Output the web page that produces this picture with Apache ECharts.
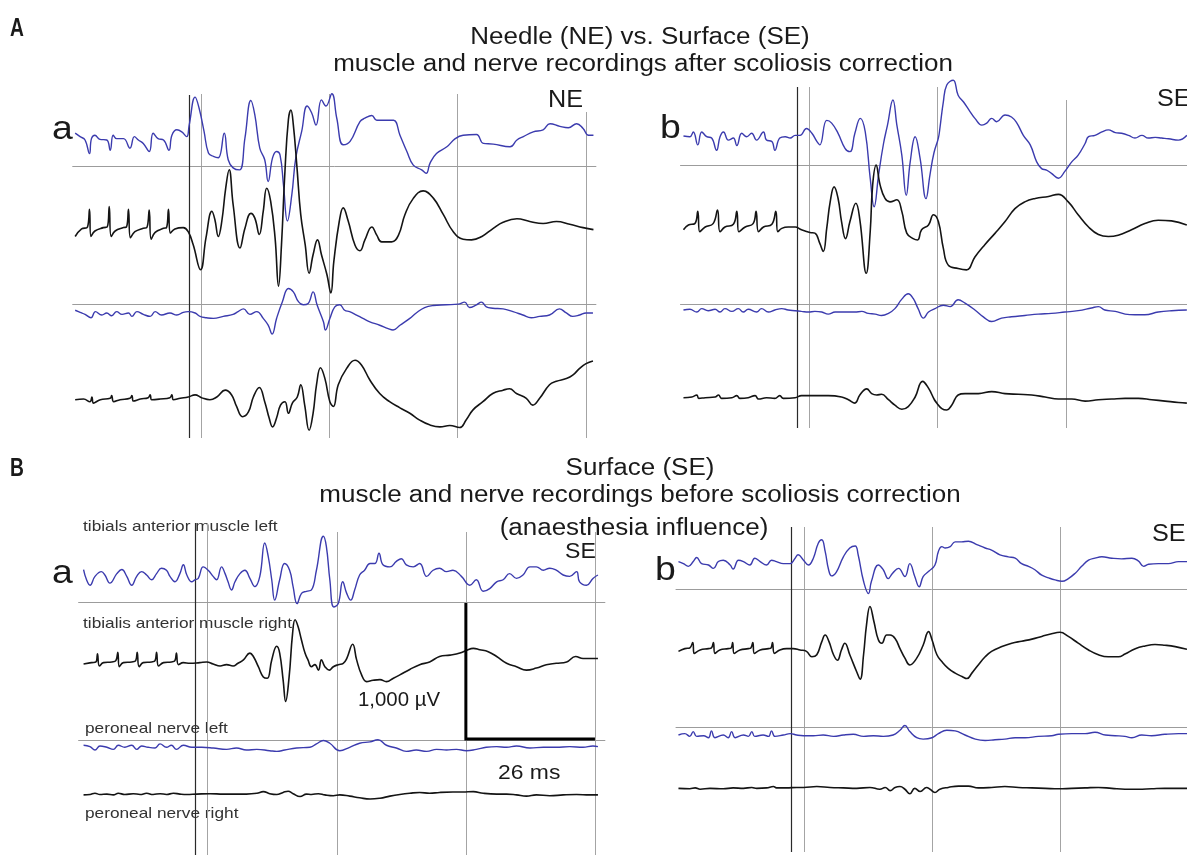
<!DOCTYPE html>
<html><head><meta charset="utf-8">
<script src="https://cdn.jsdelivr.net/npm/echarts@6.0.0/dist/echarts.min.js"></script>
<style>html,body{margin:0;padding:0;background:#fff}#c{width:1187px;height:855px}</style>
</head><body><div id="c"></div>
<script>
// ---------- values: [time ms, amplitude µV] ----------
const aa_TA_left = [[0.5,50],[1.5,25],[2.5,0],[3.4,-100],[3.8,10],[4.5,35],[5.5,5],[6.9,0],[7.6,-75],[8.2,35],[8.9,10],[10.3,10],[11.6,-60],[12.5,25],[13.3,0],[14.3,-25],[15.5,-85],[16.3,50],[17.3,10],[18.4,0],[19.5,-75],[20.1,35],[21.1,75],[22.1,60],[23.1,25],[23.6,110],[24.8,315],[25.6,235],[26.6,65],[27.5,-95],[28.5,-120],[29.5,-130],[30.7,50],[31.5,-145],[32.5,-205],[33.8,-220],[34.9,15],[36.1,290],[36.9,185],[37.9,-60],[38.9,-145],[39.6,-305],[40.5,-130],[41.3,-85],[42.0,-110],[42.7,-330],[43.5,-595],[44.4,-400],[45.2,-130],[46.4,65],[47.5,250],[48.4,200],[49.3,110],[50.4,295],[51.3,250],[52.5,340],[53.5,160],[54.8,-35],[56.2,-10],[58.2,135],[59.2,160],[60.6,180],[61.6,145],[63.3,145],[65.0,145],[66.3,35],[67.7,-85],[69.0,-185],[70.7,-220],[71.6,-245],[72.4,-170],[73.7,-100],[75.8,-50],[77.5,10],[79.1,35],[81.8,40],[83.2,-25],[85.2,-30],[88.6,-50],[90.0,0],[91.3,25],[93.3,60],[95.3,75],[96.7,120],[98.7,100],[100.4,90],[102.1,120],[103.4,85],[104.5,35],[105.5,35]];
const aa_TA_right = [[0.5,-60],[1.8,-5],[3.0,10],[3.4,140],[3.7,-60],[4.5,-20],[6.2,5],[7.0,10],[7.4,160],[7.8,-60],[8.6,-20],[10.3,5],[10.9,10],[11.3,140],[11.7,-70],[12.6,-25],[14.3,0],[15.0,5],[15.5,135],[15.9,-80],[16.7,-30],[18.4,0],[19.0,5],[19.4,140],[19.8,-35],[20.7,-5],[22.4,5],[23.4,-25],[24.4,-120],[25.9,-305],[27.0,-70],[28.2,125],[28.8,65],[29.5,-60],[30.2,50],[31.0,295],[31.7,430],[32.5,175],[33.9,-145],[34.9,0],[36.1,110],[36.9,75],[37.8,-45],[38.6,125],[39.3,295],[40.1,200],[41.0,-70],[41.7,-425],[42.3,-120],[43.0,420],[43.7,800],[44.2,870],[44.7,760],[45.4,465],[46.2,100],[47.1,-120],[47.9,-330],[48.7,-195],[49.6,-85],[50.4,-195],[51.5,-340],[52.3,-475],[52.9,-245],[54.0,50],[54.8,150],[55.8,55],[57.2,-125],[58.2,-165],[59.2,-85],[60.6,10],[61.6,-50],[62.6,-100],[64.6,-100],[66.0,-50],[67.3,100],[69.0,220],[71.0,275],[73.1,220],[75.1,100],[77.1,-25],[79.1,-80],[80.8,-85],[82.9,-60],[85.2,0],[87.2,45],[90.0,70],[92.6,50],[95.3,35],[98.0,50],[100.7,30],[103.4,5],[105.5,-10]];
const aa_PN_left = [[0.5,15],[1.5,0],[2.5,-15],[3.7,-40],[4.6,5],[5.9,-20],[6.9,-5],[7.9,-25],[8.9,5],[10.0,-15],[11.3,-5],[12.0,-30],[13.0,5],[14.3,-15],[15.7,-30],[16.7,5],[18.0,-20],[19.7,-5],[21.1,-20],[22.4,0],[23.4,5],[24.8,-5],[25.8,-30],[27.1,-40],[28.5,-45],[30.5,-30],[32.5,-15],[33.5,5],[34.6,25],[35.9,-15],[37.3,5],[38.6,-45],[39.6,-95],[40.4,-160],[41.3,-45],[42.5,80],[43.7,175],[44.7,150],[45.7,80],[46.7,55],[47.7,65],[48.7,150],[49.5,55],[50.8,-70],[51.2,-130],[52.1,-45],[53.1,40],[54.1,55],[55.1,15],[56.1,5],[57.5,-20],[58.8,-45],[60.2,-70],[62.2,-95],[63.9,-120],[64.9,-130],[66.3,-95],[68.3,-45],[69.6,-5],[71.3,35],[73.0,50],[75.7,55],[78.1,60],[79.4,75],[80.4,35],[81.8,55],[82.8,75],[83.8,40],[85.1,30],[87.2,25],[89.2,5],[91.2,-20],[92.9,-40],[94.6,-30],[96.6,-20],[98.6,25],[100.0,-5],[101.3,-30],[102.7,-20],[104.0,-5],[105.4,-5]];
const aa_PN_right = [[0.5,-5],[2.2,0],[3.5,-20],[3.9,15],[4.2,-30],[5.6,-5],[7.6,5],[7.9,25],[8.3,-20],[9.6,-5],[11.6,5],[12.0,25],[12.3,-15],[13.7,0],[15.3,10],[15.7,30],[16.0,-5],[17.7,0],[19.7,10],[20.1,30],[20.4,-5],[21.8,5],[23.4,15],[24.8,30],[26.1,10],[27.8,-5],[29.2,15],[30.9,65],[32.2,30],[33.2,-55],[34.4,-130],[35.6,-95],[36.6,15],[37.8,85],[38.9,-20],[39.8,-140],[40.5,-205],[41.3,-140],[42.1,-45],[43.0,-20],[43.7,-105],[44.5,-30],[45.5,15],[46.2,105],[47.0,-45],[47.9,-230],[48.7,-105],[49.4,105],[50.2,230],[51.1,150],[52.1,-20],[52.8,-55],[53.8,105],[55.5,225],[57.2,285],[58.5,250],[60.2,140],[62.2,40],[64.2,-20],[66.3,-65],[68.3,-105],[70.3,-155],[72.3,-190],[74.4,-205],[76.4,-195],[78.4,-210],[79.7,-155],[81.1,-80],[83.1,-20],[85.1,40],[87.2,65],[88.5,75],[89.9,40],[91.9,5],[93.2,-45],[94.6,5],[96.6,105],[98.0,130],[100.0,150],[101.3,175],[102.7,225],[104.0,260],[105.4,280]];

const ab_TA_left = [[0.6,5],[1.9,0],[2.6,35],[3.5,-60],[4.3,35],[5.3,0],[6.3,-10],[7.3,-100],[8.0,0],[8.7,35],[9.7,-25],[10.7,-10],[11.4,-65],[12.4,25],[13.4,0],[14.4,25],[15.4,-25],[16.8,35],[17.4,-25],[18.5,-35],[19.1,-100],[20.1,-10],[21.2,0],[22.2,-10],[23.2,10],[24.2,10],[25.5,60],[26.6,25],[27.6,-35],[28.2,-60],[29.6,120],[30.6,100],[31.9,25],[33.3,-85],[34.3,-110],[35.3,25],[36.4,135],[37.4,35],[38.4,-305],[39.2,-515],[40.1,-280],[41.1,-50],[41.9,85],[43.0,270],[43.8,85],[44.8,-135],[45.7,-430],[46.5,-185],[47.5,0],[48.5,-160],[49.7,-455],[50.5,-280],[51.3,-120],[52.2,-10],[52.5,60],[53.2,255],[53.9,380],[55.2,415],[56.2,305],[57.3,255],[58.6,185],[59.6,135],[61.0,85],[62.0,100],[63.0,135],[64.0,110],[65.7,160],[67.0,145],[68.1,100],[69.4,10],[70.8,-60],[72.1,-185],[73.1,-235],[74.1,-245],[75.1,-270],[76.5,-305],[77.8,-255],[79.2,-185],[80.5,-135],[81.9,-50],[82.6,0],[83.9,10],[85.3,35],[86.6,50],[88.0,30],[89.3,25],[90.7,10],[92.0,-10],[93.4,10],[94.7,-10],[96.1,-5],[97.4,-10],[98.8,-15],[100.8,-25],[102.5,10]];
const ab_TA_right = [[0.6,-15],[1.6,20],[2.9,30],[3.5,120],[3.9,-30],[5.0,5],[6.6,30],[7.5,130],[8.0,-30],[9.0,5],[10.7,25],[11.4,120],[11.8,-30],[13.1,5],[14.7,30],[15.3,120],[15.8,-30],[16.8,5],[18.5,25],[19.3,120],[19.7,-30],[20.5,-5],[21.8,5],[23.2,5],[24.5,-15],[26.2,-35],[27.2,-40],[28.2,-115],[28.9,-175],[29.6,-5],[30.3,190],[31.1,300],[31.9,215],[32.6,45],[33.4,-80],[34.3,45],[35.5,180],[36.3,60],[37.6,-335],[38.4,-30],[38.9,315],[39.6,460],[40.4,315],[41.4,215],[42.4,190],[43.8,205],[44.8,120],[45.8,-40],[47.1,-80],[48.0,-90],[48.8,-15],[50.2,20],[51.2,95],[52.2,45],[53.2,-150],[54.2,-275],[56.2,-300],[57.9,-310],[59.6,-215],[61.6,-125],[63.7,-40],[65.7,45],[67.7,140],[69.7,190],[71.8,215],[74.5,230],[76.5,245],[78.5,190],[80.5,95],[82.6,5],[84.6,-50],[86.6,-65],[88.6,-55],[91.3,-15],[94.0,30],[96.7,55],[99.4,50],[102.5,20]];
const ab_PN_left = [[0.6,0],[1.9,5],[3.3,-15],[4.3,10],[5.6,-5],[7.0,5],[8.0,-15],[9.0,10],[10.4,-10],[11.7,10],[12.7,-15],[13.7,5],[15.4,-15],[16.4,10],[17.8,-15],[19.1,0],[20.5,10],[21.8,0],[23.2,-5],[24.5,-10],[25.9,-15],[27.2,-10],[28.6,-15],[29.9,-30],[31.3,-15],[32.6,-15],[34.0,-15],[35.3,-15],[36.7,-10],[38.0,-25],[39.4,-30],[40.7,-40],[42.1,-25],[43.4,10],[44.8,80],[46.1,120],[47.1,85],[48.1,10],[49.2,-60],[50.2,-15],[51.5,10],[53.2,35],[54.6,25],[56.2,75],[57.6,50],[59.6,0],[61.3,-50],[63.0,-85],[65.0,-60],[67.0,-50],[69.7,-40],[72.4,-30],[75.1,-25],[77.8,-15],[80.5,-5],[83.2,15],[84.6,25],[85.9,0],[88.0,-10],[90.0,-30],[92.0,-35],[94.0,-35],[96.7,-15],[99.4,-5],[102.5,0]];
const ab_PN_right = [[0.6,0],[2.3,5],[3.3,20],[3.7,-5],[5.0,0],[7.0,5],[7.7,20],[8.3,-5],[10.4,0],[11.4,15],[12.0,-5],[13.7,0],[15.1,15],[15.8,-10],[17.4,0],[19.1,-5],[20.1,15],[20.8,-5],[23.2,0],[24.5,15],[27.2,15],[29.9,15],[32.6,5],[34.0,-15],[35.3,-40],[36.3,20],[37.7,65],[38.7,30],[39.7,20],[40.7,25],[42.1,-15],[43.4,-55],[44.8,-85],[46.1,-65],[47.5,5],[49.0,120],[50.2,70],[51.4,-15],[51.9,-40],[52.9,-80],[53.9,-90],[54.9,-55],[56.2,20],[57.6,30],[60.3,30],[63.0,45],[65.7,30],[68.4,25],[71.1,20],[73.8,5],[76.5,-10],[79.2,-10],[81.9,-25],[84.6,-15],[87.3,-10],[90.0,-5],[92.7,-5],[95.4,-15],[98.1,-25],[100.8,-35],[102.5,-40]];

const ba_TA_left = [[1.0,40],[1.6,-35],[2.3,-75],[3.3,-10],[4.6,25],[5.3,0],[6.3,-60],[7.7,10],[8.7,40],[9.7,-10],[10.7,-75],[11.7,-10],[12.7,25],[13.7,0],[14.7,-35],[15.7,10],[16.7,50],[17.7,35],[18.4,-10],[19.4,-50],[20.4,10],[21.1,75],[21.8,0],[22.8,-50],[23.4,-35],[24.1,-25],[25.1,60],[26.1,35],[27.1,-10],[27.8,-35],[28.8,60],[29.5,10],[30.1,-50],[30.8,-110],[31.5,-50],[32.5,10],[33.5,35],[34.5,-25],[35.5,-85],[36.5,-10],[37.5,235],[38.2,135],[38.9,-35],[39.5,-185],[40.5,-35],[41.5,85],[42.5,35],[43.2,-85],[44.0,-210],[44.9,-135],[45.9,-120],[46.9,-110],[47.9,35],[49.3,285],[49.9,210],[50.6,-35],[51.4,-235],[52.3,-210],[53.2,-50],[54.0,-135],[54.8,-185],[55.6,-110],[56.6,0],[57.6,35],[58.7,85],[59.7,85],[60.5,160],[61.3,75],[62.7,60],[64.0,100],[65.0,120],[66.0,75],[67.4,60],[68.7,85],[70.1,-10],[71.4,35],[72.7,50],[74.1,25],[75.4,35],[77.1,-10],[78.8,-75],[80.1,-35],[81.5,-120],[82.8,-100],[84.2,-50],[85.5,-35],[86.8,10],[88.2,-25],[89.5,0],[90.9,60],[92.2,60],[93.6,35],[94.9,50],[96.2,35],[97.6,0],[98.9,-10],[100.3,25],[100.9,-50],[102.3,-75],[103.6,-25],[104.6,0]];
const ba_TA_right = [[1.0,-5],[2.6,5],[3.5,10],[3.8,70],[4.2,-20],[5.0,5],[6.7,10],[7.5,20],[7.9,80],[8.2,-25],[9.0,5],[10.7,10],[11.5,20],[11.8,80],[12.2,-25],[13.0,5],[14.7,10],[15.4,20],[15.7,80],[16.1,-20],[17.1,5],[18.7,10],[19.4,20],[19.7,75],[20.1,-10],[21.1,5],[22.4,0],[24.4,5],[25.8,10],[27.1,-5],[28.5,-20],[29.8,-10],[31.1,-20],[32.1,0],[33.2,25],[34.5,75],[35.2,50],[36.2,-25],[37.2,-100],[38.0,-110],[38.9,25],[39.9,125],[40.5,75],[41.2,-125],[41.7,-280],[42.4,-100],[43.1,220],[43.6,320],[44.2,270],[44.9,170],[45.6,75],[46.2,25],[46.9,-25],[47.6,-10],[48.3,-50],[48.9,25],[49.6,-25],[50.5,-50],[51.3,-25],[52.3,-10],[53.3,0],[54.0,35],[55.2,140],[56.0,25],[57.0,-85],[58.0,-135],[59.3,-125],[60.7,-120],[62.0,-135],[63.4,-110],[64.7,-85],[66.7,-45],[68.7,-10],[70.7,10],[72.7,50],[74.8,60],[76.8,75],[78.1,95],[79.5,110],[80.8,100],[82.5,85],[84.2,50],[86.2,0],[88.2,-25],[90.2,-50],[92.2,-35],[94.2,-10],[96.2,0],[98.3,10],[100.1,50],[101.6,35],[103.6,35],[104.6,35]];
const ba_PN_left = [[1.0,15],[2.3,5],[3.3,-20],[4.3,10],[5.7,0],[7.0,-15],[8.0,15],[9.3,0],[10.7,15],[11.7,-15],[12.7,10],[14.0,0],[15.4,-5],[16.4,25],[17.7,0],[18.7,15],[19.7,-15],[21.1,15],[22.8,0],[24.8,0],[27.1,-5],[29.8,-15],[31.8,-5],[33.8,-20],[35.9,-15],[38.5,-25],[39.9,-30],[41.5,-20],[43.9,-5],[46.6,0],[47.9,25],[49.3,50],[50.6,30],[52.6,-25],[54.6,0],[56.6,30],[58.7,40],[60.3,55],[62.0,15],[64.0,-5],[66.0,-30],[68.0,-20],[70.1,-30],[72.1,-15],[74.1,-20],[76.1,-15],[78.1,-25],[80.1,-15],[82.1,0],[84.2,5],[86.2,0],[88.2,10],[90.9,-5],[93.6,0],[96.2,0],[98.9,5],[101.6,0],[103.6,10],[104.6,5]];
const ba_PN_right = [[1.0,-5],[2.3,0],[3.3,15],[4.3,0],[5.7,5],[7.0,-5],[8.0,15],[9.3,0],[11.0,10],[12.4,0],[13.7,15],[15.0,0],[16.4,10],[17.7,0],[19.1,15],[20.4,5],[21.8,0],[23.8,5],[26.5,10],[29.1,5],[31.8,5],[33.8,5],[35.9,15],[37.2,35],[38.5,10],[39.9,0],[41.2,25],[42.2,40],[43.2,10],[44.6,-25],[45.9,5],[46.9,0],[48.3,10],[49.6,-5],[51.3,-15],[52.6,-5],[54.6,-20],[56.6,-40],[58.7,-55],[60.7,-45],[62.7,-20],[64.7,0],[66.7,15],[68.7,25],[70.7,15],[72.7,25],[75.4,30],[77.4,30],[79.5,35],[81.5,15],[84.2,5],[86.2,5],[88.2,-5],[90.2,-20],[92.2,-5],[94.9,-15],[97.6,-5],[100.3,0],[102.9,-5],[104.6,-5]];

const bb_TA_left = [[0.5,20],[1.5,5],[2.5,-15],[3.5,20],[4.2,50],[5.2,5],[6.6,-5],[7.6,-30],[8.6,20],[9.6,30],[11.0,-5],[11.6,-35],[12.7,30],[13.7,20],[15.0,-5],[16.0,45],[17.1,20],[18.4,-5],[19.4,30],[20.4,20],[21.8,5],[23.2,5],[24.2,45],[24.8,70],[25.9,30],[26.9,-5],[27.9,45],[28.9,155],[29.6,180],[30.3,95],[31.0,-40],[31.6,-85],[32.6,-55],[34.0,55],[35.3,120],[36.4,135],[37.0,70],[38.1,-125],[39.1,-215],[39.7,-125],[41.1,-5],[42.1,-40],[43.1,-105],[44.0,-65],[45.2,-30],[46.5,-90],[47.5,5],[48.5,-90],[49.4,-165],[50.2,-90],[51.4,-50],[52.6,-5],[53.3,95],[54.0,130],[54.7,120],[55.7,130],[56.7,165],[58.0,165],[59.4,170],[61.1,145],[62.8,120],[64.1,105],[65.8,70],[67.5,55],[68.9,45],[70.2,5],[71.6,-15],[72.9,-40],[74.3,-80],[75.7,-100],[77.0,-115],[78.4,-125],[79.7,-105],[81.1,-65],[82.4,-15],[83.8,30],[85.1,45],[86.5,55],[88.5,45],[90.5,40],[92.6,45],[93.9,25],[95.0,-15],[96.0,0],[98.0,5],[100.0,5],[102.1,20],[103.8,20]];
const bb_TA_right = [[0.5,-10],[1.8,10],[2.8,15],[3.4,55],[3.7,-25],[4.9,0],[6.6,10],[7.2,15],[7.6,55],[7.9,-25],[8.9,0],[10.6,10],[11.2,15],[11.5,55],[11.8,-25],[13.0,0],[14.7,10],[15.2,15],[15.6,55],[15.9,-25],[17.1,0],[18.8,10],[19.3,15],[19.6,55],[20.0,-25],[21.1,0],[22.5,10],[23.8,10],[25.2,0],[26.5,-10],[27.6,-50],[28.6,-35],[29.6,60],[30.3,110],[31.1,60],[32.0,-35],[32.8,-75],[33.6,0],[34.3,50],[35.3,-35],[36.7,-160],[37.4,-215],[38.1,-35],[38.7,185],[39.4,320],[40.2,210],[41.1,75],[41.8,50],[42.8,110],[43.5,110],[44.5,85],[45.5,10],[46.5,-60],[47.5,-110],[48.9,-60],[50.2,35],[51.3,135],[52.0,75],[53.0,-35],[54.0,-85],[55.3,-135],[56.7,-170],[58.1,-195],[59.1,-210],[60.1,-170],[61.4,-110],[62.8,-50],[64.1,-10],[66.2,25],[68.2,50],[70.2,65],[72.3,80],[74.3,100],[76.3,120],[78.0,130],[79.7,100],[81.7,50],[83.8,0],[85.8,-35],[87.8,-50],[89.9,-50],[91.2,-30],[93.3,10],[95.3,30],[97.3,40],[99.3,35],[101.4,25],[103.8,5]];
const bb_PN_left = [[0.5,0],[1.8,10],[2.8,-10],[3.5,25],[4.2,-10],[5.6,-5],[6.6,-20],[7.2,30],[7.9,-20],[9.6,0],[10.6,-20],[11.3,25],[12.0,-20],[13.7,0],[14.7,-10],[15.4,25],[16.0,-10],[17.7,0],[18.8,-10],[19.4,30],[20.1,-10],[21.8,0],[23.2,10],[24.5,0],[25.9,-5],[27.9,-5],[29.9,0],[32.0,-10],[34.0,0],[36.0,5],[38.1,-10],[40.1,-5],[42.1,-10],[44.1,0],[45.5,35],[46.5,70],[47.5,25],[48.9,-20],[50.2,-30],[52.0,-20],[53.3,10],[55.0,35],[56.7,30],[58.7,0],[60.8,-30],[62.8,-40],[64.8,-35],[66.8,-30],[68.9,-20],[70.9,-20],[73.6,-10],[76.3,-5],[77.7,5],[80.4,10],[83.1,10],[85.1,20],[87.2,0],[89.2,-5],[91.2,-10],[92.6,-20],[94.6,0],[96.6,-5],[99.3,5],[102.1,10],[103.8,10]];
const bb_PN_right = [[0.5,0],[2.8,-5],[3.9,5],[4.9,-10],[6.9,0],[9.6,-5],[11.6,5],[13.7,0],[15.4,10],[16.4,0],[18.4,5],[19.8,20],[20.4,5],[22.5,5],[24.5,10],[25.9,10],[28.6,20],[31.3,10],[34.0,5],[36.7,0],[39.4,10],[41.4,-10],[42.5,10],[43.5,-25],[44.5,10],[45.5,20],[46.5,-10],[47.5,-60],[48.5,0],[49.6,-35],[50.9,10],[51.6,-10],[52.6,-45],[53.6,-10],[55.3,10],[57.4,25],[59.4,25],[61.4,5],[64.1,10],[66.8,20],[69.6,10],[72.3,5],[75.0,0],[77.7,-5],[80.4,0],[83.1,5],[85.8,10],[88.5,0],[91.2,-10],[93.9,-10],[96.6,-5],[99.3,0],[102.1,0],[103.8,0]];

const TRACE_NAMES = ['tibials anterior muscle left','tibialis anterior muscle right','peroneal nerve left','peroneal nerve right'];
const GRID_TIMES = [26, 52, 78, 104];   // vertical grid lines (ms)
const SCALE_MS = 26;                    // calibration bar
const SCALE_UV = 1000;
const STIM_MS = [23.6, 23.6, 23.5, 23.5];

// ---------- layout (pixels) ----------
const GAIN = 0.136; // px per µV
const PANELS = [
  {x0:72.7,  pxMs:4.936, tMax:106,    gTops:[94,94,94,112],    gBot:438, sTop:95,  sBot:438, base:[140,228.3,312.3,399],   seps:[166,304], traces:[aa_TA_left,aa_TA_right,aa_PN_left,aa_PN_right]},
  {x0:680.5, pxMs:4.94,  tMax:102.53, gTops:[87,87,100],       gBot:428, sTop:87,  sBot:428, base:[136.7,227.7,310,397.7], seps:[165,304], traces:[ab_TA_left,ab_TA_right,ab_PN_left,ab_PN_right]},
  {x0:78.6,  pxMs:4.965, tMax:106,    gTops:[523,532,532,532], gBot:855, sTop:523, sBot:855, base:[575,663.3,747.3,834],   seps:[602,740], traces:[ba_TA_left,ba_TA_right,ba_PN_left,ba_PN_right]},
  {x0:676,   pxMs:4.923, tMax:103.8,  gTops:[527,527,527],     gBot:852, sTop:527, sBot:852, base:[564.3,650,735,821.7],   seps:[589,727], traces:[bb_TA_left,bb_TA_right,bb_PN_left,bb_PN_right]}
];
const BLUE = '#3b3bae', BLACK = '#141414', GRAY = '#a4a4a4';

const grid = [], xAxis = [], yAxis = [], series = [];
function addGrid(g, xa, ya) {
  grid.push(g); const i = grid.length - 1;
  xa.gridIndex = i; ya.gridIndex = i; xAxis.push(xa); yAxis.push(ya); return i;
}
const hiddenX = (tMax) => ({type:'value', min:0, max:tMax, show:false});
const hiddenY = () => ({type:'value', min:0, max:1, show:false});
function vLine(p, width, top, bottom, t, color, w, z) {
  const gi = addGrid({left:p.x0, top, width, height:bottom - top}, hiddenX(p.tMax), hiddenY());
  series.push({type:'line', xAxisIndex:gi, yAxisIndex:gi, data:[], silent:true, z:z,
    markLine:{silent:true, symbol:'none', animation:false, label:{show:false}, z:z,
      lineStyle:{color, width:w, type:'solid'}, data:[{xAxis:t}]}});
}
let scaleGrid = -1;

PANELS.forEach((p, pi) => {
  const width = p.tMax * p.pxMs;
  GRID_TIMES.filter(t => t < p.tMax).forEach((t, k) => vLine(p, width, p.gTops[k], p.gBot, t, GRAY, 1, 1));
  vLine(p, width, p.sTop, p.sBot, STIM_MS[pi], '#2a2a2a', 1.2, 2);
  p.traces.forEach((tr, i) => {
    const b = p.base[i];
    const sep = (i % 2 === 0) ? p.seps[i / 2] : null;
    const top = b - 100, bottom = sep !== null ? sep : b + 100;
    const gi = addGrid({left:p.x0, top, width, height:bottom - top},
      {type:'value', min:0, max:p.tMax, show: sep !== null, z:1,
       axisLine:{show: sep !== null, onZero:false, lineStyle:{color:'#9c9c9c', width:1}},
       axisTick:{show:false}, axisLabel:{show:false}, splitLine:{show:false}},
      {type:'value', min:-(bottom - b) / GAIN, max:100 / GAIN, show:false});
    if (pi === 2 && i === 1) scaleGrid = gi;
    series.push({type:'line', name:TRACE_NAMES[i], xAxisIndex:gi, yAxisIndex:gi, data:tr,
      showSymbol:false, symbol:'none', clip:false, smooth:0.45, z:3,
      lineStyle:{color: i % 2 === 0 ? BLUE : BLACK, width: i % 2 === 0 ? 1.4 : 1.6}});
  });
});

// calibration bar (1000 µV / 26 ms) drawn in the Ba right-TA axes
const barT = 78, barTopUV = 443;
series.push({type:'line', xAxisIndex:scaleGrid, yAxisIndex:scaleGrid, clip:false, symbol:'none', silent:true, z:6,
  data:[[barT, barTopUV], [barT, barTopUV - SCALE_UV], [barT + SCALE_MS, barTopUV - SCALE_UV]],
  lineStyle:{color:'#000', width:3, join:'miter', cap:'butt'}});

// ---------- texts ----------
const F = 'Liberation Sans, Arial, sans-serif';
const TEXTS = [
  {t:'A', x:10, y:29, s:26, w:'bold', sx:0.74},
  {t:'Needle (NE) vs. Surface (SE)', x:640, y:38, s:23, a:'center', sx:1.13},
  {t:'muscle and nerve recordings after scoliosis correction', x:643, y:64.5, s:23, a:'center', sx:1.13},
  {t:'NE', x:548, y:100, s:24, sx:1.05},
  {t:'SE', x:1157, y:99, s:24, sx:1.05},
  {t:'a', x:52, y:130, s:34, sx:1.1},
  {t:'b', x:660, y:129, s:34, sx:1.1},
  {t:'B', x:10, y:468.5, s:26, w:'bold', sx:0.74},
  {t:'Surface (SE)', x:640, y:468.5, s:23, a:'center', sx:1.13},
  {t:'muscle and nerve recordings before scoliosis correction', x:640, y:495.5, s:23, a:'center', sx:1.13},
  {t:'(anaesthesia influence)', x:634, y:529, s:23, a:'center', sx:1.13},
  {t:'SE', x:565, y:552, s:22, sx:1.05},
  {t:'SE', x:1152, y:534, s:24, sx:1.05},
  {t:'a', x:52, y:574, s:34, sx:1.1},
  {t:'b', x:655, y:571, s:34, sx:1.1},
  {t:TRACE_NAMES[0], x:83, y:527, s:15, sx:1.15, c:'#333'},
  {t:TRACE_NAMES[1], x:83, y:623.5, s:15, sx:1.15, c:'#333'},
  {t:TRACE_NAMES[2], x:85, y:729, s:15, sx:1.15, c:'#333'},
  {t:TRACE_NAMES[3], x:85, y:813.5, s:15, sx:1.15, c:'#333'},
  {t:SCALE_UV.toLocaleString('en-US') + ' µV', x:358, y:700.5, s:20, sx:1.02},
  {t:SCALE_MS + ' ms', x:498, y:773, s:21, sx:1.09}
];
const graphic = TEXTS.map(d => ({
  type:'text', x:d.x, y:d.y, scaleX:d.sx || 1, silent:true, z:0,
  style:{text:d.t, fill:d.c || '#1a1a1a', font:(d.w || 'normal') + ' ' + d.s + 'px ' + (d.f || F),
    align:d.a || 'left', verticalAlign:'middle', textAlign:d.a || 'left', textVerticalAlign:'middle'}
}));

const chart = echarts.init(document.getElementById('c'), null, {renderer:'canvas'});
chart.setOption({backgroundColor:'#fff', animation:false, grid, xAxis, yAxis, series, graphic});
</script></body></html>
